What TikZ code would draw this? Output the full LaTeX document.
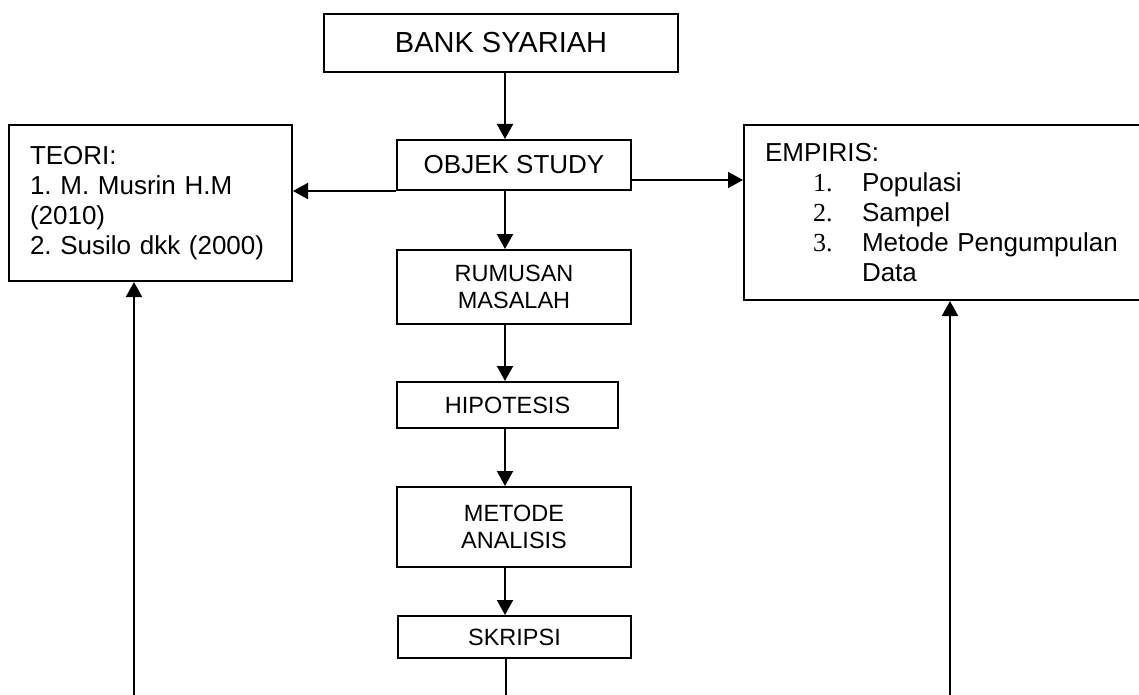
\documentclass[tikz,border=0pt]{standalone}
\usepackage{fontspec}
\setmainfont{Liberation Sans}
\newfontfamily\numfont{Liberation Serif}
\usetikzlibrary{arrows.meta}
\frenchspacing
\tikzset{
  box/.style={draw, line width=2pt, inner sep=0pt, align=center,
    font=\fontsize{23.5}{27.5}\selectfont},
  listbox/.style={box, align=left, inner xsep=21pt,
    font=\fontsize{26}{30}\selectfont},
  arr/.style={line width=2pt, -{Triangle[length=15pt,width=16pt]}},
  link/.style={line width=2pt}
}
\newcommand{\empitem}[2]{\hspace*{48pt}\makebox[49pt][l]{\numfont #1}#2}

\begin{document}
\begin{tikzpicture}[x=1pt,y=-1pt]
\useasboundingbox (0,0) rectangle (1139,695);

% centre column
\node[box, minimum width=354pt, minimum height=58pt, font=\fontsize{29}{33}\selectfont] (bank) at (501,43) {BANK SYARIAH};
\node[box, minimum width=234pt, minimum height=50pt, font=\fontsize{26}{30}\selectfont] (objek) at (514,165) {OBJEK STUDY};
\node[box, minimum width=234pt, minimum height=74pt] (rumusan) at (514,287) {RUMUSAN\\MASALAH};
\node[box, minimum width=221pt, minimum height=46pt] (hipotesis) at (507.5,405) {HIPOTESIS};
\node[box, minimum width=234pt, minimum height=80pt] (metode) at (514,527) {METODE\\ANALISIS};
\node[box, minimum width=233pt, minimum height=42pt] (skripsi) at (514.5,637) {SKRIPSI};

% side boxes
\node[listbox, text width=241pt, minimum height=156pt] (teori) at (150.5,203)
  {TEORI:\\1. M. Musrin H.M\\(2010)\\2. Susilo dkk (2000)};
\node[listbox, text width=358pt, minimum height=175pt] (empiris) at (944,212.5)
  {EMPIRIS:\\
   \empitem{1.}{Populasi}\\
   \empitem{2.}{Sampel}\\
   \empitem{3.}{Metode Pengumpulan}\\
   \hspace*{97pt}Data};

\coordinate (spine) at (505,0);
\coordinate (endS) at (506,697);
\coordinate (endT) at (134,697);
\coordinate (endE) at (950,697);

% arrows
\draw[arr] (bank.south -| spine) -- (objek.north -| spine);
\draw[arr] (objek.south -| spine) -- (rumusan.north -| spine);
\draw[arr] (rumusan.south -| spine) -- (hipotesis.north -| spine);
\draw[arr] (hipotesis.south -| spine) -- (metode.north -| spine);
\draw[arr] (metode.south -| spine) -- (skripsi.north -| spine);
\draw[arr] (objek.south west) -- (objek.south west -| teori.east);
\draw[arr] ([yshift=-15pt]objek.east) -- ([yshift=-15pt]objek.east -| empiris.west);

% back lines from the bottom
\draw[link] (skripsi.south -| endS) -- (endS);
\draw[arr] (endT) -- (teori.south -| endT);
\draw[arr] (endE) -- (empiris.south -| endE);
\end{tikzpicture}
\end{document}
